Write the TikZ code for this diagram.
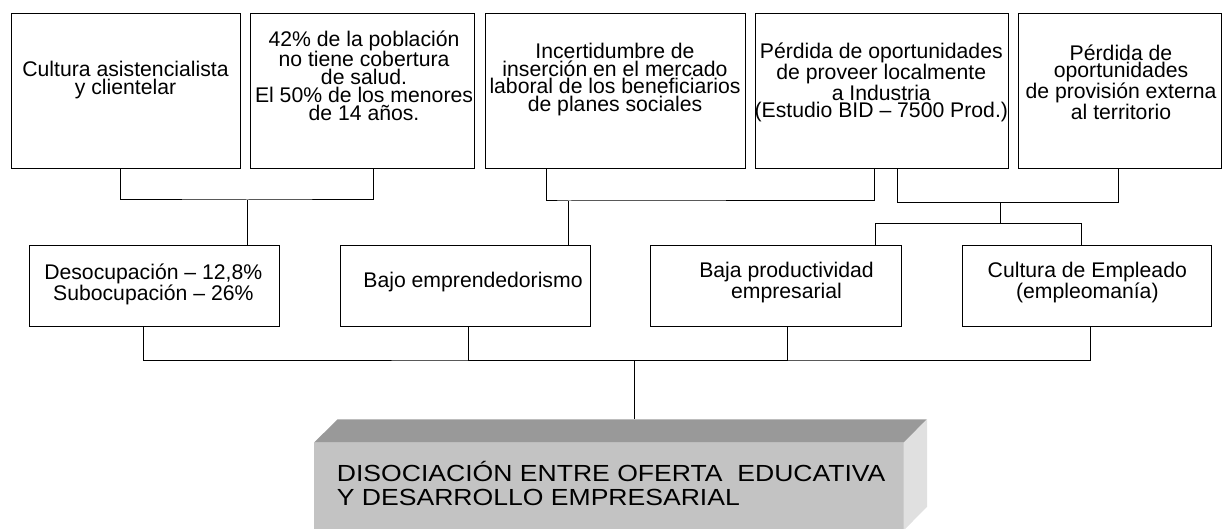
\documentclass[tikz,border=0pt]{standalone}
\usepackage{fontspec}
\setmainfont{Liberation Sans}
\newfontfamily\titulofont[FakeStretch=1.14]{Liberation Sans}
\usepackage{tikz}

\definecolor{caraFrente}{HTML}{C3C3C3}
\definecolor{caraArriba}{HTML}{999999}
\definecolor{caraLado}{HTML}{E0E0E0}

\begin{document}
\begin{tikzpicture}[x=1pt, y=-1pt,
		caja/.style={draw=black, line width=1pt, inner sep=0pt, anchor=north west},
		texto/.style={inner sep=0pt, anchor=north, align=center, font=\fontsize{21.2}{17.7}\selectfont},
		linea/.style={draw=black, line width=1pt}]
		\useasboundingbox (0,0) rectangle (1222,529);
		% causas de arriba
		\node[caja, minimum width=229.3pt, minimum height=155pt] (c1) at (10.7,13.3) {};
		\node[caja, minimum width=224pt, minimum height=155pt] (c2) at (250.3,13.3) {};
		\node[caja, minimum width=260pt, minimum height=155pt] (c3) at (484.7,13.3) {};
		\node[caja, minimum width=253.3pt, minimum height=155pt] (c4) at (754.7,13.3) {};
		\node[caja, minimum width=203pt, minimum height=155pt] (c5) at (1018,13.3) {};
		\node[texto] (t1) at (125.5,60.7) {\rule{0pt}{16pt}Cultura asistencialista\\y clientelar};
		\node[texto] (t2) at (364,30) {\rule{0pt}{16pt}42\% de la población\\no tiene cobertura\\de salud.\\El 50\% de los menores\\de 14 años.};
		\node[texto] (t3) at (615,42.3) {\rule{0pt}{16pt}Incertidumbre de\\inserción en el mercado\\laboral de los beneficiarios\\de planes sociales};
		\node[texto] (t4) at (881.3,42.3) {\rule{0pt}{16pt}Pérdida de oportunidades\\de proveer localmente\\a Industria\\(Estudio BID – 7500 Prod.)};
		\node[texto] (t5) at (1121,44) {\rule{0pt}{16pt}Pérdida de\\oportunidades\\de provisión externa\\al territorio};
		% fila del medio
		\node[caja, minimum width=250pt, minimum height=81pt] (m1) at (29.3,245) {};
		\node[caja, minimum width=250.6pt, minimum height=81pt] (m2) at (339.7,245) {};
		\node[caja, minimum width=250.7pt, minimum height=81pt] (m3) at (650.3,245) {};
		\node[caja, minimum width=249.6pt, minimum height=81pt] (m4) at (961.7,245) {};
		\node[texto] (tm1) at (153.3,263.3) {\rule{0pt}{16pt}Desocupación – 12,8\%\\Subocupación – 26\%};
		\node[texto] (tm2) at (473,271.3) {\rule{0pt}{16pt}Bajo emprendedorismo};
		\node[texto] (tm3) at (786.5,261.7) {\rule{0pt}{16pt}Baja productividad\\empresarial};
		\node[texto] (tm4) at (1087.3,261.7) {\rule{0pt}{16pt}Cultura de Empleado\\(empleomanía)};
		% conectores
		\coordinate (j1) at (247.3,200);
		\draw[linea] ([xshift=-5pt]c1.south) |- (j1) -| ([xshift=11pt]c2.south);
		\draw[linea] (j1) -- (j1 |- m1.north);
		\coordinate (j2) at (568.3,201);
		\draw[linea] ([xshift=-69pt]c3.south) |- (j2) -| ([xshift=-7.65pt]c4.south);
		\draw[linea] (j2) -- (j2 |- m2.north);
		\coordinate (j3) at (1000.3,202.7);
		\coordinate (j3b) at (1000.3,223.3);
		\draw[linea] ([xshift=15.65pt]c4.south) |- (j3) -| ([xshift=-1.5pt]c5.south);
		\draw[linea] (j3) -- (j3b);
		\draw[linea] ([xshift=99.65pt]m3.north) |- (j3b) -| ([xshift=-5.25pt]m4.north);
		\coordinate (j4) at (634.3,360);
		\draw[linea] ([xshift=-11pt]m1.south) |- (j4) -| ([xshift=3.75pt]m4.south);
		\foreach \n/\dx in {m2/3, m3/11.35}
			\draw[linea] ([xshift=\dx pt]\n.south) |- (j4);
		% problema central
		\node[fill=caraFrente, inner sep=0pt, anchor=north west, minimum width=589.3pt, minimum height=87.3pt] (prob) at (314,442.7) {};
		\fill[caraArriba] (prob.north west) -- ++(23.5,-23.4) -- ++(589.3,0) -- (prob.north east) -- cycle;
		\fill[caraLado] (prob.north east) -- ++(23.5,-23.4) -- ++(0,87.3) -- (prob.south east) -- cycle;
		\coordinate (arriba) at ([shift={(23.5,-23.4)}]prob.north);
		\draw[linea] (j4) -- (j4 |- arriba);
		\node[inner sep=0pt, anchor=north west, align=left, font=\titulofont\fontsize{23.3}{23.3}\selectfont] (tp) at (336.7,456.7) {\rule{0pt}{25pt}DISOCIACIÓN ENTRE OFERTA\ \ EDUCATIVA\\Y DESARROLLO EMPRESARIAL};
	\end{tikzpicture}
\end{document}
